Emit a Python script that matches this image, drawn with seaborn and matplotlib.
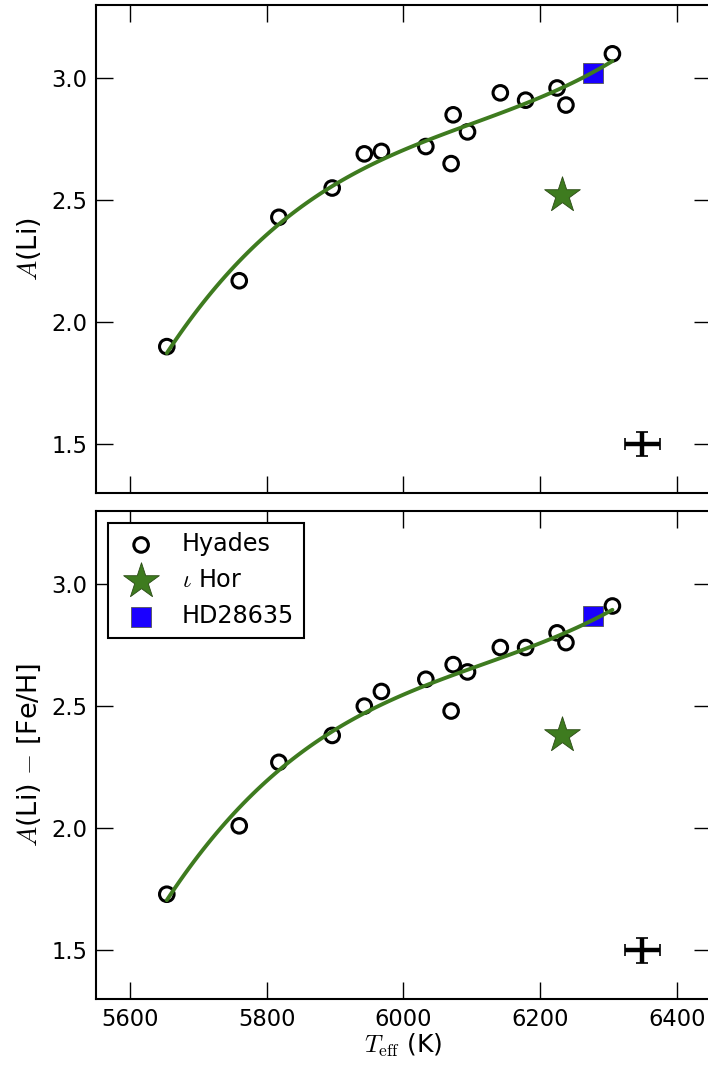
import numpy as np
import pandas as pd
import matplotlib
matplotlib.use("Agg")
import matplotlib.pyplot as plt
import seaborn as sns

# Hyades members: effective temperature (K) and lithium abundances
hyades_teff = [5654, 5760, 5818, 5896, 5943, 5968, 6033, 6070, 6073, 6094,
               6142, 6179, 6225, 6238, 6306]
hyades_ali = [1.90, 2.17, 2.43, 2.55, 2.69, 2.70, 2.72, 2.65, 2.85, 2.78,
              2.94, 2.91, 2.96, 2.89, 3.10]
hyades_ali_feh = [1.73, 2.01, 2.27, 2.38, 2.50, 2.56, 2.61, 2.48, 2.67, 2.64,
                  2.74, 2.74, 2.80, 2.76, 2.91]

# iota Hor and HD28635
ihor_teff = [6232]
ihor_ali = [2.52]
ihor_ali_feh = [2.38]
hd_teff = [6278]
hd_ali = [3.02]
hd_ali_feh = [2.87]

# Representative uncertainty cross
err_teff = [6350]
err_ali = [1.5]
err_dteff = [25]
err_dali = [0.05]

ylabels = ["$A$(Li)", "$A$(Li) $-$ [Fe/H]"]
xlabel = "$T_{\\rm eff}$ (K)"
yticks = [1.5, 2.0, 2.5, 3.0]
xticks = [5600, 5800, 6000, 6200, 6400]

GREEN = "#3e7b1f"
BLUE = "#1a00ff"

sns.set_theme(style="ticks")
TICK_FS = 16.3
plt.rcParams.update({
    "font.family": ["DejaVu Sans"],
    "mathtext.fontset": "cm",
    "font.size": TICK_FS,
    "text.color": "black",
    "axes.linewidth": 1.5,
    "axes.edgecolor": "black",
    "axes.labelcolor": "black",
    "xtick.color": "black",
    "ytick.color": "black",
    "xtick.direction": "in",
    "ytick.direction": "in",
    "xtick.top": True,
    "ytick.right": True,
    "xtick.major.size": 12,
    "ytick.major.size": 12,
    "xtick.major.width": 1.0,
    "ytick.major.width": 1.0,
    "xtick.major.pad": 6,
    "ytick.major.pad": 6,
    "xtick.labelsize": TICK_FS,
    "ytick.labelsize": TICK_FS,
    "axes.labelsize": 16.5,
    "legend.fontsize": 17.2,
})

fig = plt.figure(figsize=(7.08, 10.66), dpi=100)
ax_top = fig.add_axes([0.1352, 0.5375, 0.8688, 0.4578])
ax_bot = fig.add_axes([0.1352, 0.0626, 0.8688, 0.4583])

panels = [
    (ax_top, hyades_ali, ihor_ali, hd_ali),
    (ax_bot, hyades_ali_feh, ihor_ali_feh, hd_ali_feh),
]

for i, (ax, y_hy, y_ih, y_hd) in enumerate(panels):
    df = pd.DataFrame({"teff": hyades_teff, "ali": y_hy})

    sns.scatterplot(data=df, x="teff", y="ali", ax=ax, marker="o", s=110,
                    facecolor="none", edgecolor="black", linewidth=2.2,
                    label="Hyades", zorder=3)
    sns.scatterplot(x=ihor_teff, y=y_ih, ax=ax, marker="*", s=730,
                    color=GREEN, edgecolor="#2a4a14", linewidth=0.6,
                    label="$\\iota$ Hor", zorder=3)
    sns.scatterplot(x=hd_teff, y=y_hd, ax=ax, marker="s", s=225,
                    color=BLUE, edgecolor="#555555", linewidth=0.6,
                    label="HD28635", zorder=3)

    # polynomial trend through the cluster stars
    sns.regplot(data=df, x="teff", y="ali", ax=ax, order=3, ci=None,
                scatter=False, truncate=True,
                line_kws={"color": GREEN, "lw": 2.8, "zorder": 4})

    ax.errorbar(err_teff, err_ali, xerr=err_dteff, yerr=err_dali,
                fmt="none", ecolor="black", elinewidth=3.2, capsize=4,
                capthick=1.2, zorder=4)

    ax.set_xlim(5550, 6450)
    ax.set_ylim(1.3, 3.3)
    ax.set_xticks(xticks)
    ax.set_yticks(yticks)
    ax.set_yticklabels([f"{v:.1f}" for v in yticks])
    ax.set_ylabel(ylabels[i], fontsize=19.5, labelpad=6)
    for sp in ax.spines.values():
        sp.set_visible(True)
        sp.set_linewidth(1.5)

ax_top.set_xlabel("")
ax_top.tick_params(labelbottom=False)
if ax_top.get_legend() is not None:
    ax_top.get_legend().remove()
ax_bot.set_xticklabels([str(v) for v in xticks])
ax_bot.set_xlabel(xlabel, fontsize=18, labelpad=1)

leg = ax_bot.legend(loc="upper left", frameon=True, fancybox=False,
                    framealpha=1, edgecolor="black", scatterpoints=1,
                    borderaxespad=0.5, handletextpad=0.7)
leg.get_frame().set_linewidth(1.5)

fig.savefig("out.png", dpi=100)
